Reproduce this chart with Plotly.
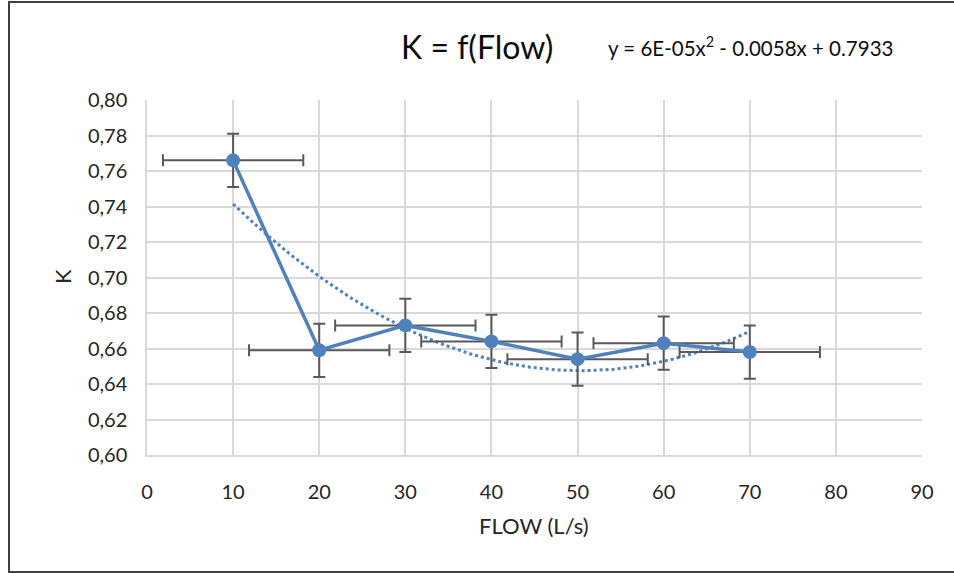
import numpy as np
import plotly.graph_objects as go

flow = [10, 20, 30, 40, 50, 60, 70]
k_values = [0.766, 0.659, 0.673, 0.664, 0.654, 0.663, 0.658]
k_err = [0.015, 0.015, 0.015, 0.015, 0.015, 0.015, 0.015]
flow_err = [8.15, 8.15, 8.15, 8.15, 8.15, 8.15, 8.15]
x_ticks = [0, 10, 20, 30, 40, 50, 60, 70, 80, 90]
y_ticks = [0.60, 0.62, 0.64, 0.66, 0.68, 0.70, 0.72, 0.74, 0.76, 0.78, 0.80]
y_tick_text = [f"{v:.2f}".replace(".", ",") for v in y_ticks]

# polynomial (order 2) trendline fitted to the data, as in the source chart
coef = np.polyfit(flow, k_values, 2)
trend_x = np.linspace(min(flow), max(flow), 121)
trend_y = np.polyval(coef, trend_x)

BLUE = "#4F81BD"
FONT = "Lato"

fig = go.Figure()
fig.add_trace(go.Scatter(
    x=trend_x, y=trend_y, mode="lines",
    line=dict(color=BLUE, width=3, dash="dot"),
    hoverinfo="skip", showlegend=False))
fig.add_trace(go.Scatter(
    x=flow, y=k_values, mode="lines+markers",
    line=dict(color=BLUE, width=3.5),
    marker=dict(color=BLUE, size=14),
    error_x=dict(type="data", array=flow_err, color="#595959", thickness=2, width=6),
    error_y=dict(type="data", array=k_err, color="#595959", thickness=2, width=6),
    showlegend=False))

L, R, T, B = 147, 32, 100, 118
W, H = 954, 573
pw, ph = W - L - R, H - T - B

def px(x):
    return (x - L) / pw

def py(y):
    return (H - B - y) / ph

fig.update_layout(
    width=W, height=H,
    margin=dict(l=L, r=R, t=T, b=B),
    paper_bgcolor="white", plot_bgcolor="white",
    font=dict(family=FONT, color="#262626", size=16),
    xaxis=dict(range=[0, 90], tickvals=x_ticks, showgrid=True,
               gridcolor="#d9d9d9", gridwidth=1.5, zeroline=False,
               showline=True, linecolor="#d9d9d9", linewidth=1.5,
               ticks="", tickfont=dict(size=20, color="#262626"),
               ticklabelstandoff=18),
    yaxis=dict(range=[0.60, 0.80], tickvals=y_ticks, ticktext=y_tick_text,
               showgrid=True, gridcolor="#d9d9d9", gridwidth=1.5, zeroline=False,
               showline=True, linecolor="#d9d9d9", linewidth=1.5,
               ticks="", tickfont=dict(size=20, color="#262626"),
               ticklabelstandoff=14),
    annotations=[
        dict(text="K = f(Flow)", x=px(477), y=py(47), xref="paper", yref="paper",
             showarrow=False, font=dict(size=32, color="#0d0d0d"), xanchor="center", yanchor="middle"),
        dict(text="y = 6E-05x<sup>2</sup> - 0.0058x + 0.7933", x=px(606), y=py(47),
             xref="paper", yref="paper", showarrow=False,
             font=dict(size=20.5, color="#0d0d0d"), xanchor="left", yanchor="middle"),
        dict(text="FLOW (L/s)", x=px(534), y=py(525), xref="paper", yref="paper",
             showarrow=False, font=dict(size=22, color="#262626"), xanchor="center", yanchor="middle"),
        dict(text="K", x=px(62), y=py(277), xref="paper", yref="paper", textangle=-90,
             showarrow=False, font=dict(size=22, color="#262626"), xanchor="center", yanchor="middle"),
    ],
    shapes=[
        dict(type="rect", xref="paper", yref="paper",
             x0=px(9), x1=px(960), y0=py(572), y1=py(2),
             line=dict(color="#404040", width=2)),
    ],
)

fig.write_html("out.html", config={"displayModeBar": False},
               post_script="document.body.style.margin='0';document.body.style.overflow='hidden';")
